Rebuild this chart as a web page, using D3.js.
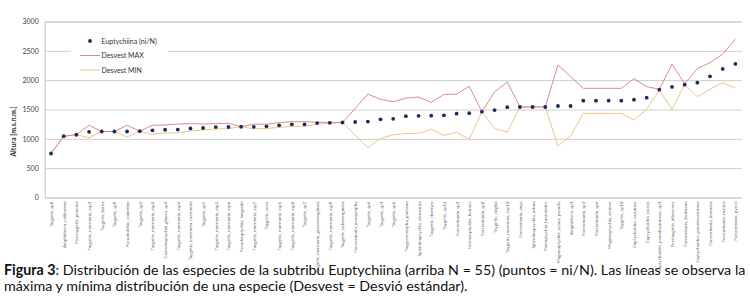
<!DOCTYPE html>
<html>
<head>
<meta charset="utf-8">
<script src="https://cdn.jsdelivr.net/npm/d3@7"></script>
<style>
  body { margin: 0; background: #fff; }
  svg { display: block; }
</style>
</head>
<body>
<div id="chart"></div>
<script>
// species along the x axis (ordered by mean altitude)
const species = [
  "Taygetis_sp8", "Amphidecta_calliomma", "Posttaygetis_penelea", "Taygetis_mermeria_ssp1",
  "Taygetis_kerea", "Taygetis_sp9", "Pseudodebis_valentina", "Taygetis_sp3",
  "Taygetis_mermeria_ssp2", "Caeruleuptychia_glauca_sp4", "Taygetis_mermeria_ssp4",
  "Taygetis_mermeria_mermeria", "Taygetis_sp5", "Taygetis_mermeria_ssp3", "Taygetis_mermeria_ssp6",
  "Pseudeuptychia_languida", "Taygetis_mermeria_ssp7", "Taygetis_sosis", "Taygetis_mermeria_ssp5",
  "Taygetis_mermeria_ssp8", "Taygetis_sp7", "Taygetis_mermeria_griseomarginata",
  "Taygetis_mermeria_ssp9", "Taygetis_rufomarginata", "Forsterinaria_neonympha", "Taygetis_sp4",
  "Taygetis_sp1", "Taygetis_sp6", "Taygetomorpha_puritana", "Splendeuptychia_clementia",
  "Taygetis_thamyra", "Taygetis_sp12", "Forsterinaria_sp1", "Hermeuptychia_hermes",
  "Forsterinaria_sp2", "Taygetis_virgilia", "Taygetis_mermeria_ssp10", "Forsterinaria_anys",
  "Splendeuptychia_ashna", "Pareuptychia_hesionides", "Magneuptychia_ocnus_pseudo",
  "Amphidecta_sp1", "Forsterinaria_sp3", "Forsterinaria_sp4", "Magneuptychia_alcinoe",
  "Taygetis_sp10", "Euptychoides_saturnus", "Euptychoides_nossis",
  "Euptychoides_pseudosaturnus_sp1", "Posttaygetis_albescens", "Forsterinaria_boliviana",
  "Euptychoides_pseudosaturnus", "Forsterinaria_inornata", "Forsterinaria_rustica",
  "Forsterinaria_pyrczi"
];

// Euptychiina (ni/N) - mean altitude per species
const meanAlt = [
  750, 1045, 1070, 1120, 1125, 1125, 1125, 1130, 1145, 1155,
  1158, 1178, 1185, 1200, 1202, 1206, 1204, 1214, 1231, 1248,
  1248, 1268, 1273, 1278, 1287, 1295, 1333, 1341, 1387, 1392,
  1395, 1401, 1429, 1438, 1463, 1490, 1540, 1543, 1543, 1543,
  1560, 1560, 1650, 1650, 1650, 1650, 1667, 1702, 1838, 1884,
  1923, 1957, 2066, 2191, 2276
];

// Desvest MAX
const devMax = [
  750, 1045, 1070, 1231, 1125, 1125, 1231, 1130, 1231, 1236,
  1253, 1259, 1253, 1259, 1265, 1206, 1250, 1250, 1276, 1293,
  1293, 1282, 1280, 1278, 1518, 1763, 1674, 1631, 1693, 1713,
  1620, 1756, 1760, 1898, 1463, 1800, 1970, 1543, 1543, 1543,
  2259, 2060, 1861, 1861, 1861, 1861, 2026, 1889, 1845, 2271,
  1940, 2196, 2299, 2441, 2697
];

// Desvest MIN
const devMin = [
  750, 1045, 1070, 1020, 1125, 1125, 1031, 1130, 1077, 1100,
  1100, 1134, 1151, 1168, 1174, 1206, 1170, 1176, 1195, 1212,
  1212, 1250, 1265, 1278, 1066, 849, 1008, 1068, 1091, 1094,
  1165, 1057, 1111, 992, 1463, 1175, 1114, 1543, 1543, 1543,
  878, 1049, 1435, 1435, 1435, 1435, 1321, 1504, 1830, 1504,
  1925, 1719, 1844, 1957, 1867
];

const yTicks = [0, 500, 1000, 1500, 2000, 2500, 3000];

const width = 750, height = 308;
const margin = {top: 21.5, right: 8.3, bottom: 110.5, left: 44.7};

const svg = d3.select("#chart")
    .append("svg")
    .attr("width", width)
    .attr("height", height);

const x = d3.scalePoint()
    .domain(d3.range(species.length))
    .range([margin.left, width - margin.right])
    .padding(0.5);

const y = d3.scaleLinear()
    .domain([0, 3000])
    .range([height - margin.bottom, margin.top]);

const font = "Lato, 'Open Sans', sans-serif";

// gridlines + y labels
const yAxis = d3.axisLeft(y)
    .tickValues(yTicks)
    .tickSize(-(width - margin.left - margin.right))
    .tickPadding(6)
    .tickFormat(d3.format("d"));

svg.append("g")
    .attr("transform", "translate(" + margin.left + ",0)")
    .call(yAxis)
    .call(g => g.select(".domain").attr("stroke", "#c4c4c4"))
    .call(g => g.selectAll(".tick line").attr("stroke", "#cfcfcf").attr("stroke-width", 1))
    .call(g => g.selectAll(".tick text")
        .attr("font-family", font)
        .attr("font-size", "7px")
        .attr("fill", "#444"));

// x axis: rotated species names
const xAxis = d3.axisBottom(x)
    .tickSize(0)
    .tickPadding(0)
    .tickFormat(i => species[i]);

svg.append("g")
    .attr("transform", "translate(0," + y(0) + ")")
    .call(xAxis)
    .call(g => g.select(".domain").remove())
    .call(g => g.selectAll(".tick text")
        .attr("font-family", font)
        .attr("font-size", "4.6px")
        .attr("fill", "#666")
        .attr("text-anchor", "end")
        .attr("transform", "rotate(-90)")
        .attr("x", -4)
        .attr("y", 0)
        .attr("dy", "0.32em"));

// y axis title
svg.append("text")
    .attr("transform", "translate(16," + (margin.top + (y(0) - margin.top) / 2 + 22) + ") rotate(-90)")
    .attr("text-anchor", "middle")
    .attr("font-family", font)
    .attr("font-size", "7px")
    .attr("font-weight", "bold")
    .attr("fill", "#333")
    .text("Altura [m.s.n.m.]");

// deviation lines
const line = d3.line()
    .x((d, i) => x(i))
    .y(d => y(d));

svg.append("path")
    .datum(devMin)
    .attr("d", line)
    .attr("fill", "none")
    .attr("stroke", "#e6bf80")
    .attr("stroke-width", 0.9);

svg.append("path")
    .datum(devMax)
    .attr("d", line)
    .attr("fill", "none")
    .attr("stroke", "#dc7c7e")
    .attr("stroke-width", 0.9);

// points
svg.append("g")
    .selectAll("circle")
    .data(meanAlt)
    .join("circle")
    .attr("cx", (d, i) => x(i))
    .attr("cy", d => y(d))
    .attr("r", 1.9)
    .attr("fill", "#1c2a5c");

// legend
const legend = svg.append("g");
legend.append("rect")
    .attr("x", 71).attr("y", 30)
    .attr("width", 97).attr("height", 49)
    .attr("fill", "#fff");

legend.append("circle")
    .attr("cx", 90).attr("cy", 41).attr("r", 1.9)
    .attr("fill", "#1c2a5c");

legend.append("line")
    .attr("x1", 80).attr("x2", 100).attr("y1", 55.5).attr("y2", 55.5)
    .attr("stroke", "#dc7c7e").attr("stroke-width", 0.9);

legend.append("line")
    .attr("x1", 80).attr("x2", 100).attr("y1", 70).attr("y2", 70)
    .attr("stroke", "#e6bf80").attr("stroke-width", 0.9);

const legendLabels = ["Euptychiina (ni/N)", "Desvest MAX", "Desvest MIN"];
legend.selectAll("text")
    .data(legendLabels)
    .join("text")
    .attr("x", 101.5)
    .attr("y", (d, i) => 43.5 + i * 14.5)
    .attr("font-family", font)
    .attr("font-size", "7px")
    .attr("fill", "#333")
    .text(d => d);

// caption
const cap1 = svg.append("text")
    .attr("x", 4).attr("y", 275)
    .attr("font-family", font)
    .attr("font-size", "11px")
    .attr("fill", "#111");
cap1.append("tspan").attr("font-weight", "bold").text("Figura 3");
cap1.append("tspan").text(": Distribución de las especies de la subtribu Euptychiina (arriba N = 55) (puntos = ni/N). Las líneas se observa la");

// fit first line to the width of the figure
const w1 = cap1.node().getComputedTextLength();
const capSize = 11 * 742 / w1;
cap1.attr("font-size", capSize + "px");

svg.append("text")
    .attr("x", 4).attr("y", 290.5)
    .attr("font-family", font)
    .attr("font-size", capSize + "px")
    .attr("fill", "#111")
    .text("máxima y mínima distribución de una especie (Desvest = Desvió estándar).");
</script>
</body>
</html>
